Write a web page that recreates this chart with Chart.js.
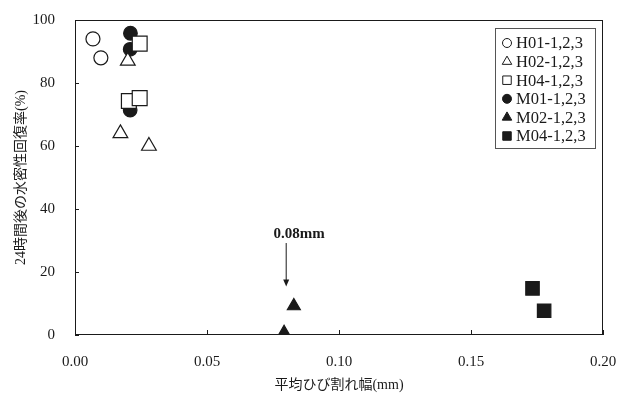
<!DOCTYPE html>
<html>
<head>
<meta charset="utf-8">
<script src="https://cdn.jsdelivr.net/npm/chart.js@4"></script>
<style>
  html, body { margin: 0; padding: 0; background: #fff; }
  #wrap { width: 622px; height: 396px; }
</style>
</head>
<body>
<div id="wrap"><canvas id="crackChart" width="622" height="396"></canvas></div>
<script>
// series labels
const seriesNames = ['H01-1,2,3', 'H02-1,2,3', 'H04-1,2,3', 'M01-1,2,3', 'M02-1,2,3', 'M04-1,2,3'];

// crack width (mm) / recovery rate (%)
const h01X = [0.0068, 0.0098];
const h01Y = [94, 88];
const h02X = [0.02, 0.0172, 0.028];
const h02Y = [87, 64, 60];
const h04X = [0.0245, 0.0204, 0.0245];
const h04Y = [92.5, 74.3, 75.2];
const m01X = [0.021, 0.0209, 0.0209];
const m01Y = [95.8, 90.7, 71.4];
const m02X = [0.0829, 0.0792];
const m02Y = [9.2, 0.7];
const m04X = [0.1733, 0.1777];
const m04Y = [14.8, 7.7];

const xTicks = [0, 0.05, 0.1, 0.15, 0.2];
const yTicks = [0, 20, 40, 60, 80, 100];

// annotation arrow at 0.08 mm
const arrowX = 0.08;
const arrowFrom = 29.2;
const arrowTo = 15.4;
const arrowText = '0.08mm';

const serif = "'Liberation Serif', 'Noto Sans CJK JP', serif";
const ink = '#1a1a1a';

function pts(xs, ys) {
    return xs.map((x, i) => ({ x: x, y: ys[i] }));
}

const styles = [
    { style: 'circle', fill: '#fff', r: 7 },
    { style: 'triangle', fill: '#fff', r: 8.5 },
    { style: 'rect', fill: '#fff', r: 10.5 },
    { style: 'circle', fill: ink, r: 6.8 },
    { style: 'triangle', fill: ink, r: 7.5 },
    { style: 'rect', fill: ink, r: 9.5 }
];
const dataSets = [pts(h01X, h01Y), pts(h02X, h02Y), pts(h04X, h04Y), pts(m01X, m01Y), pts(m02X, m02Y), pts(m04X, m04Y)];

// frame, inward ticks, arrow and legend box
const extras = {
    id: 'extras',
    afterDraw(chart) {
        const ctx = chart.ctx;
        const a = chart.chartArea;
        const xs = chart.scales.x, ys = chart.scales.y;
        ctx.save();
        ctx.strokeStyle = ink;
        ctx.lineWidth = 1;
        ctx.strokeRect(a.left + 0.5, a.top + 0.5, a.right - a.left - 1, a.bottom - a.top - 1);
        xTicks.forEach(v => {
            const px = Math.round(xs.getPixelForValue(v)) + 0.5;
            ctx.beginPath(); ctx.moveTo(px, a.bottom); ctx.lineTo(px, a.bottom - 5); ctx.stroke();
        });
        yTicks.forEach(v => {
            const py = Math.round(ys.getPixelForValue(v)) + 0.5;
            ctx.beginPath(); ctx.moveTo(a.left, py); ctx.lineTo(a.left + 4, py); ctx.stroke();
        });

        // arrow
        const ax = xs.getPixelForValue(arrowX);
        const y1 = ys.getPixelForValue(arrowFrom), y2 = ys.getPixelForValue(arrowTo);
        ctx.beginPath(); ctx.moveTo(ax, y1); ctx.lineTo(ax, y2 - 6); ctx.stroke();
        ctx.fillStyle = ink;
        ctx.beginPath(); ctx.moveTo(ax - 3, y2 - 7); ctx.lineTo(ax + 3, y2 - 7); ctx.lineTo(ax, y2); ctx.closePath(); ctx.fill();
        ctx.font = 'bold 15px ' + serif;
        ctx.textAlign = 'center';
        ctx.textBaseline = 'bottom';
        ctx.fillText(arrowText, ax + 13, y1 - 1);

        // legend
        const lx = 495, ly = 28, lw = 100, lh = 120;
        ctx.strokeStyle = '#555';
        ctx.strokeRect(lx + 0.5, ly + 0.5, lw, lh);
        ctx.font = '16.5px ' + serif;
        ctx.textAlign = 'left';
        ctx.textBaseline = 'middle';
        seriesNames.forEach((name, i) => {
            const cy = ly + 15 + i * 18.6;
            const st = styles[i];
            ctx.fillStyle = st.fill;
            ctx.strokeStyle = ink;
            ctx.lineWidth = 1;
            Chart.helpers.drawPoint(ctx, { pointStyle: st.style, radius: st.style === 'rect' ? 6 : (st.style === 'triangle' ? 5.5 : 4.5), borderWidth: 1 }, lx + 12, cy);
            ctx.fillStyle = ink;
            ctx.fillText(name, lx + 21, cy + 1);
        });
        ctx.restore();
    }
};

const ctx = document.getElementById('crackChart').getContext('2d');
new Chart(ctx, {
    type: 'scatter',
    data: {
        datasets: seriesNames.map((name, i) => ({
            label: name,
            data: dataSets[i],
            pointStyle: styles[i].style,
            pointRadius: styles[i].r,
            pointHoverRadius: styles[i].r,
            backgroundColor: styles[i].fill,
            borderColor: ink,
            borderWidth: 1.2
        }))
    },
    options: {
        responsive: false,
        animation: false,
        layout: { autoPadding: false, padding: { left: 0, right: 19, top: 20, bottom: 0 } },
        scales: {
            x: {
                type: 'linear',
                min: 0, max: 0.2,
                afterFit: s => { s.height = 61; s.paddingLeft = 0; s.paddingRight = 0; },
                afterBuildTicks: s => { s.ticks = xTicks.map(v => ({ value: v })); },
                grid: { display: false, drawTicks: false },
                border: { display: false },
                ticks: {
                    color: ink,
                    padding: 18,
                    font: { family: serif, size: 15 },
                    callback: v => v.toFixed(2)
                },
                title: {
                    display: true,
                    text: '平均ひび割れ幅(mm)',
                    color: ink,
                    font: { family: serif, size: 14 },
                    padding: { top: 0, bottom: 2 }
                }
            },
            y: {
                min: 0, max: 100,
                afterFit: s => { s.width = 75; s.paddingTop = 0; s.paddingBottom = 0; },
                afterBuildTicks: s => { s.ticks = yTicks.map(v => ({ value: v })); },
                grid: { display: false, drawTicks: false },
                border: { display: false },
                ticks: {
                    color: ink,
                    padding: 20,
                    font: { family: serif, size: 15 }
                },
                title: {
                    display: true,
                    text: '24時間後の水密性回復率(%)',
                    color: ink,
                    font: { family: serif, size: 14 },
                    padding: { top: 13, bottom: 0 }
                }
            }
        },
        plugins: {
            legend: { display: false },
            tooltip: { enabled: false }
        }
    },
    plugins: [extras]
});
</script>
</body>
</html>
